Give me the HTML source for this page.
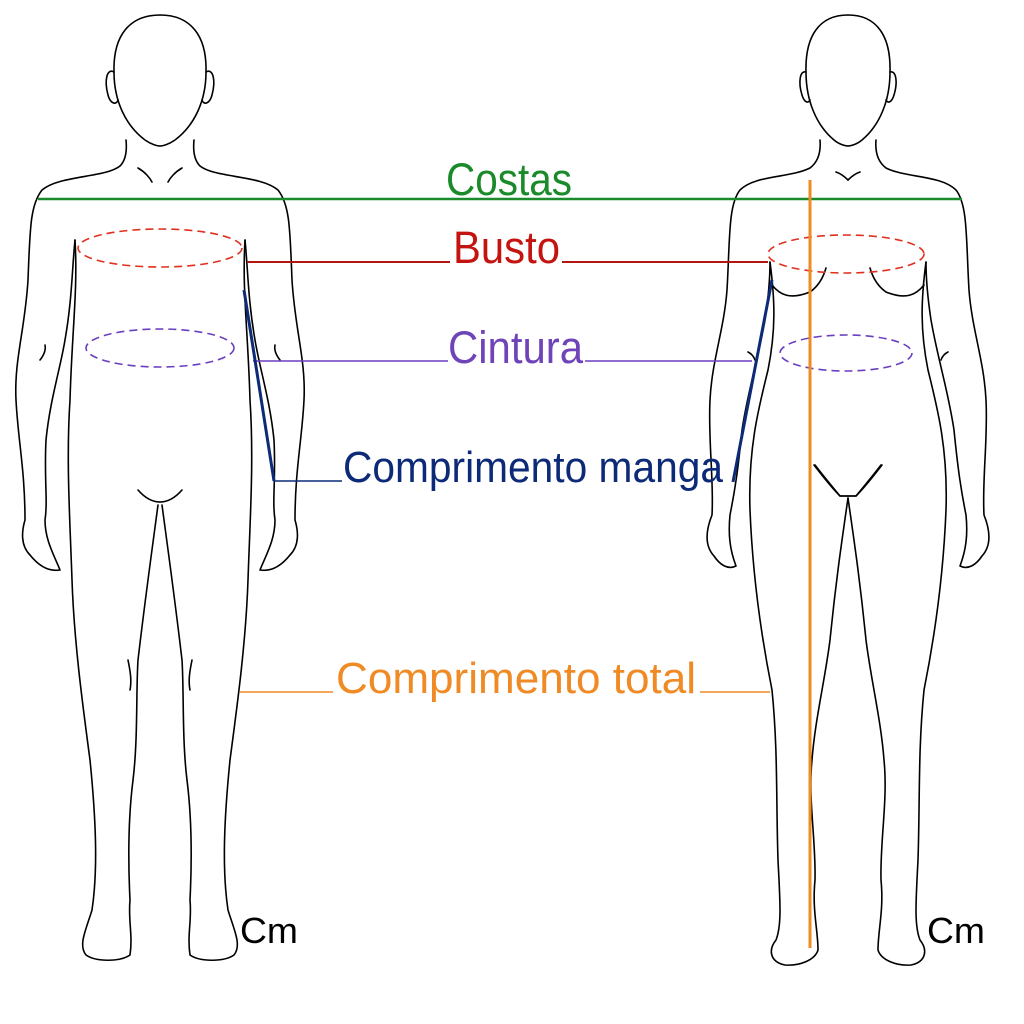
<!DOCTYPE html>
<html><head><meta charset="utf-8"><style>html,body{margin:0;padding:0;background:#fff}svg{display:block}</style></head>
<body>
<svg width="1024" height="1024" viewBox="0 0 1024 1024" xmlns="http://www.w3.org/2000/svg" font-family="Liberation Sans, sans-serif">
<rect width="1024" height="1024" fill="#fff"/>
<g fill="none" stroke="#000" stroke-width="1.6" stroke-linejoin="round" stroke-linecap="round">
<!-- male -->
<g id="mhalf">
<path d="M160,15 C130,15 113,35 114,72 C114,100 125,125 145,140 C152,145 158,146 160,146"/>
<path d="M114,72 C107,68 104,80 108,95 C110,103 116,106 118,100"/>
<path d="M126,140 C127,150 126,160 120,166 C105,178 60,175 42,190 C30,205 30,230 28,280 C25,330 14,360 16,400 C18,440 25,470 25,520 C22,530 20,545 30,555 C38,565 48,572 60,570 C54,555 45,540 45,520 C48,500 44,480 46,440 C50,400 60,370 65,340 C72,300 72,270 75,240"/>
<path d="M75,240 C78,290 72,330 70,400 C66,460 70,520 72,580 C74,640 82,700 90,760 C96,820 98,870 92,910 C86,930 78,945 86,955 C96,962 120,962 130,955 C133,935 128,920 130,900 C128,860 128,820 133,780 C138,740 136,690 138,660 C145,600 152,550 158,505"/>
<path d="M40,360 C44,355 46,350 45,345"/>
<path d="M138,168 C145,172 150,178 152,182"/>
<path d="M138,490 C145,498 152,502 160,502"/>
<path d="M128,660 C130,670 132,680 130,690"/>
</g>
<use href="#mhalf" transform="translate(320,0) scale(-1,1)"/>
<!-- female -->
<g id="fhalf">
<path d="M848,15 C820,15 805,35 806,72 C806,100 816,125 834,140 C840,145 846,146 848,146"/>
<path d="M806,72 C800,70 798,82 802,95 C804,102 808,104 810,100"/>
<path d="M820,140 C821,152 818,162 810,168 C790,178 755,175 740,190 C728,205 730,240 727,290 C724,330 712,360 710,400 C708,440 714,480 712,515 C706,530 704,545 714,556 C720,565 728,570 736,566 C730,550 728,535 730,515 C735,490 738,470 742,430 C748,390 758,360 765,320 C768,300 770,280 770,262"/>
<path d="M770,262 C775,300 776,330 768,370 C758,410 748,450 750,510 C752,560 758,620 772,690 C778,750 776,800 778,860 C780,900 782,925 776,940 C768,950 770,962 785,965 C800,966 815,960 818,950 C818,930 812,910 815,880 C816,840 808,800 812,760 C815,720 825,680 830,640 C836,580 842,540 848,498"/>
<path d="M772,285 C780,295 790,300 810,292 C820,285 824,275 826,268"/>
<path d="M815,465 C825,478 835,490 840,496 L856,496 C862,490 872,478 882,465"/>
<path d="M836,172 C842,174 846,178 848,180"/>
<path d="M748,352 C752,354 754,357 755,360"/>
</g>
<use href="#fhalf" transform="translate(1696,0) scale(-1,1)"/>
</g>
<!-- measurement lines -->
<line x1="38" y1="199" x2="962" y2="199" stroke="#1a8a2a" stroke-width="2.5"/>
<text x="446" y="195" font-size="45" fill="#1a8a2a" textLength="126" lengthAdjust="spacingAndGlyphs">Costas</text>
<ellipse cx="160" cy="248" rx="82" ry="19" fill="none" stroke="#e0301e" stroke-width="1.6" stroke-dasharray="8,5"/>
<ellipse cx="846" cy="254" rx="78" ry="19" fill="none" stroke="#e0301e" stroke-width="1.6" stroke-dasharray="8,5"/>
<line x1="247" y1="262" x2="450" y2="262" stroke="#b3150f" stroke-width="2"/>
<line x1="562" y1="262" x2="768" y2="262" stroke="#b3150f" stroke-width="2"/>
<text x="453" y="263" font-size="45" fill="#c4140f" textLength="107" lengthAdjust="spacingAndGlyphs">Busto</text>
<ellipse cx="160" cy="348" rx="74" ry="19" fill="none" stroke="#6a3fc0" stroke-width="1.6" stroke-dasharray="8,5"/>
<ellipse cx="846" cy="353" rx="66" ry="18" fill="none" stroke="#6a3fc0" stroke-width="1.6" stroke-dasharray="8,5"/>
<line x1="253" y1="361" x2="448" y2="361" stroke="#6a3fc0" stroke-width="1.6"/>
<line x1="585" y1="361" x2="752" y2="361" stroke="#6a3fc0" stroke-width="1.6"/>
<text x="448" y="363" font-size="45" fill="#6f44b8" textLength="135" lengthAdjust="spacingAndGlyphs">Cintura</text>
<line x1="244" y1="290" x2="274" y2="481" stroke="#0d2a78" stroke-width="3"/>
<line x1="772" y1="280" x2="733" y2="482" stroke="#0d2a78" stroke-width="3"/>
<line x1="274" y1="481" x2="342" y2="481" stroke="#0d2a78" stroke-width="1.6"/>
<text x="343" y="482" font-size="44" fill="#0d2a78" textLength="380" lengthAdjust="spacingAndGlyphs">Comprimento manga</text>
<line x1="810" y1="180" x2="810" y2="948" stroke="#f08a24" stroke-width="3"/>
<line x1="240" y1="692" x2="333" y2="692" stroke="#f08a24" stroke-width="1.6"/>
<line x1="700" y1="692" x2="770" y2="692" stroke="#f08a24" stroke-width="1.6"/>
<text x="336" y="693" font-size="44" fill="#f08a24" textLength="360" lengthAdjust="spacingAndGlyphs">Comprimento total</text>
<text x="240" y="943" font-size="36" fill="#000" textLength="58" lengthAdjust="spacingAndGlyphs">Cm</text>
<text x="927" y="943" font-size="36" fill="#000" textLength="58" lengthAdjust="spacingAndGlyphs">Cm</text>
</svg>
</body></html>
